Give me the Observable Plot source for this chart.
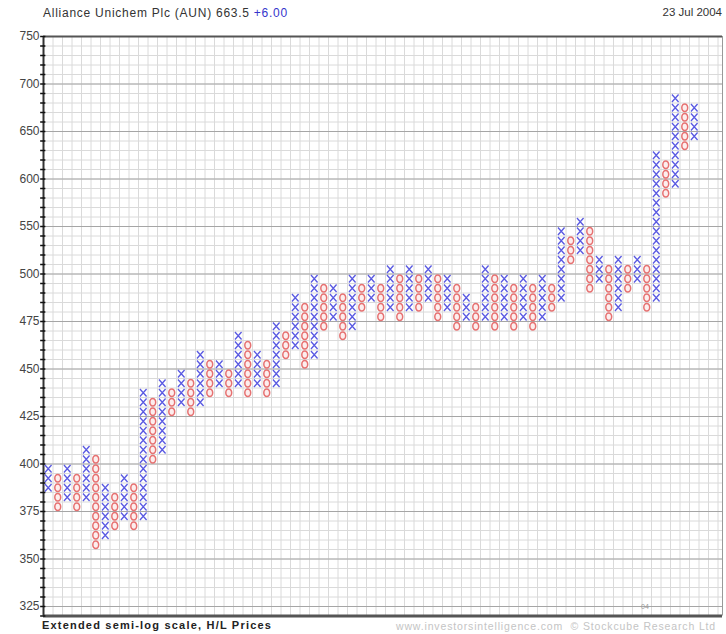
<!DOCTYPE html>
<html><head><meta charset="utf-8">
<script src="https://cdn.jsdelivr.net/npm/d3@7"></script>
<script src="https://cdn.jsdelivr.net/npm/@observablehq/plot@0.6"></script>
<style>
body{margin:0;background:#fff;font-family:"Liberation Sans",Arial,sans-serif;}
#wrap{position:relative;width:726px;height:634px;overflow:hidden;}
#wrap svg{position:absolute;left:0;top:0;}
.t{position:absolute;white-space:nowrap;}
</style></head><body>
<div id="wrap">
 <div class="t" style="left:43px;top:6px;font-size:12px;letter-spacing:0.75px;color:#333">Alliance Unichem Plc (AUN) 663.5 <span style="color:#3535cc">+6.00</span></div>
 <div class="t" style="right:4px;top:6px;font-size:11.5px;color:#333">23 Jul 2004</div>
 <div class="t" style="left:641px;top:603px;font-size:7px;color:#999">04</div>
 <div class="t" style="left:42px;top:619px;font-size:11px;font-weight:bold;letter-spacing:1.2px;color:#222">Extended semi-log scale, H/L Prices</div>
 <div class="t" style="left:396px;top:620px;font-size:10.5px;letter-spacing:0.85px;color:#c4c4c4">www.investorsintelligence.com &nbsp;© Stockcube Research Ltd</div>
</div>
<script>
// Point & figure columns: odd columns are X (rising), even columns are O (falling)
const colType = ["X","O","X","O","X","O","X","O","X","O","X","O","X","O","X","O","X","O","X","O","X","O","X","O","X","O","X","O","X","O","X","O","X","O","X","O","X","O","X","O","X","O","X","O","X","O","X","O","X","O","X","O","X","O","X","O","X","O","X","O","X","O","X","O","X","O","X","O","X"];
const colLow  = [385,375,380,375,380,355,360,365,370,365,370,400,405,425,430,425,430,435,440,435,440,435,440,435,440,455,460,450,455,470,475,465,470,480,485,475,480,475,480,480,485,475,480,470,475,470,475,470,475,470,475,470,475,480,485,510,520,490,495,475,480,490,495,480,485,580,590,630,640];
const colHigh = [395,390,395,390,405,400,385,380,390,385,435,430,440,435,445,440,455,450,450,445,465,460,455,450,470,465,485,480,495,490,490,485,495,490,495,490,500,495,500,495,500,495,495,490,485,480,500,495,495,490,495,490,495,490,540,530,550,540,510,500,510,500,510,500,620,610,680,670,670];
const yTickLabels = [325,350,375,400,425,450,475,500,550,600,650,700,750];

// box size of the extended semi-log scale
const boxSize = p => p >= 500 ? 10 : 5;

const boxes = [];
colType.forEach((t, i) => {
  let p = colLow[i];
  while (p <= colHigh[i]) {
    boxes.push({col: i + 1, type: t, level: p, yc: p + boxSize(p) / 2});
    p += boxSize(p);
  }
});
const xs = boxes.filter(d => d.type === "X");
const os = boxes.filter(d => d.type === "O");

const boxEdges = [];
for (let p = 320; p < 500; p += 5) boxEdges.push(p);
for (let p = 500; p <= 750; p += 10) boxEdges.push(p);

const W = 726, H = 634, mL = 43, mR = 4, mT = 36, mB = 18.5;
const colW = 9.5;
const xMax = 0.5 + (W - mL - mR) / colW;
const colEdges = d3.range(0.5, xMax, 1);

// custom P&F symbols
const crossSymbol = {draw(ctx, size) {
  const s = Math.sqrt(size / Math.PI);
  const w = s * 0.92, h = s * 1.05;
  ctx.moveTo(-w, -h); ctx.lineTo(w, h);
  ctx.moveTo(w, -h); ctx.lineTo(-w, h);
}};
const ovalSymbol = {draw(ctx, size) {
  const s = Math.sqrt(size / Math.PI);
  const rx = s * 0.82, ry = s * 1.05, k = 0.5523;
  ctx.moveTo(0, -ry);
  ctx.bezierCurveTo(rx * k, -ry, rx, -ry * k, rx, 0);
  ctx.bezierCurveTo(rx, ry * k, rx * k, ry, 0, ry);
  ctx.bezierCurveTo(-rx * k, ry, -rx, ry * k, -rx, 0);
  ctx.bezierCurveTo(-rx, -ry * k, -rx * k, -ry, 0, -ry);
  ctx.closePath();
}};

const chart = Plot.plot({
  width: W, height: H,
  marginLeft: mL, marginRight: mR, marginTop: mT, marginBottom: mB,
  style: {fontFamily: "Liberation Sans, Arial, sans-serif", fontSize: "12px", color: "#444", background: "white"},
  x: {type: "linear", domain: [0.5, xMax], axis: null},
  y: {type: "linear", domain: [320, 500, 750], range: [615.5, 273.5, 36], axis: null},
  marks: [
    Plot.ruleY(boxEdges, {stroke: "#dadada", strokeWidth: 1}),
    Plot.ruleX(colEdges, {stroke: "#dadada", strokeWidth: 1}),
    Plot.ruleY(yTickLabels, {stroke: "#a6a6a6", strokeWidth: 1}),
    Plot.ruleX([xMax], {stroke: "#999", strokeWidth: 1}),
    Plot.ruleY([750], {stroke: "#555", strokeWidth: 2}),
    Plot.ruleY([320], {stroke: "#555", strokeWidth: 3}),
    Plot.ruleX([0.5], {stroke: "#333", strokeWidth: 2}),
    Plot.ruleY(boxEdges, {x1: 0.2, x2: 0.75, stroke: "#111", strokeWidth: 1.5}),
    Plot.axisY(yTickLabels, {anchor: "left", tickSize: 0, tickPadding: 4, label: null, fontSize: 12, tickFormat: d => String(d)}),
    Plot.dot(os, {x: "col", y: "yc", symbol: ovalSymbol, r: 3.6, stroke: "#e67272", strokeWidth: 1.5, fill: "#fdeeee"}),
    Plot.dot(xs, {x: "col", y: "yc", symbol: crossSymbol, r: 3.6, stroke: "#5a5ae2", strokeWidth: 1.3, fill: "none"})
  ]
});
document.getElementById("wrap").prepend(chart);
</script>
</body></html>
